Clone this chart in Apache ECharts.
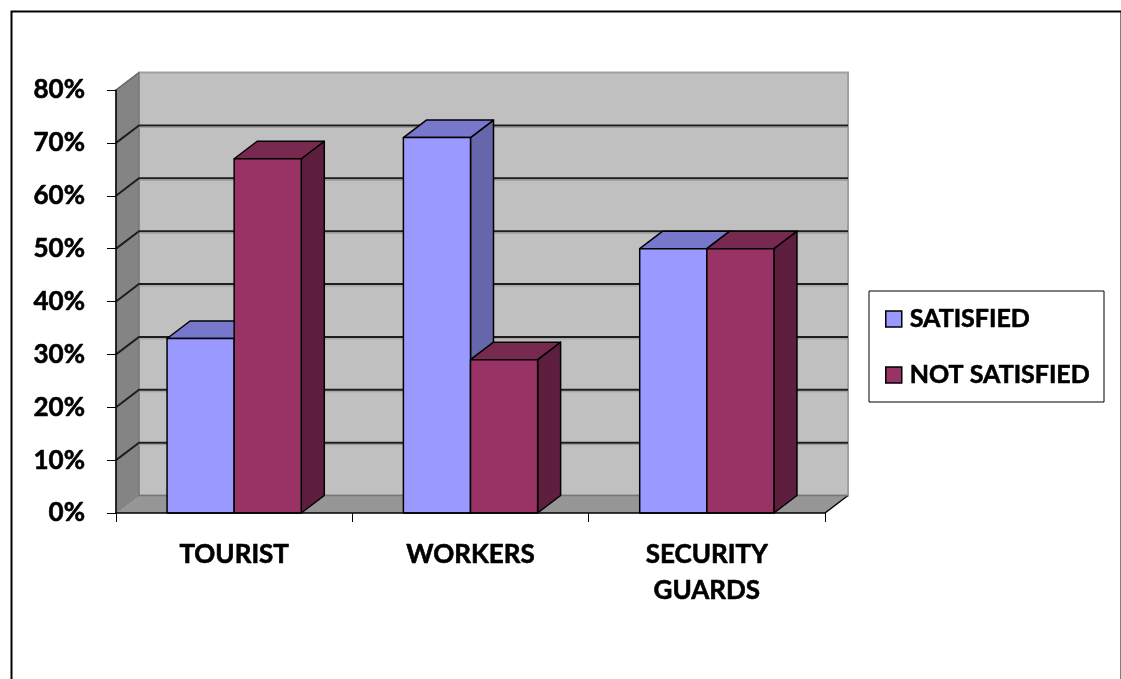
<!DOCTYPE html>
<html>
<head>
<meta charset="utf-8">
<script src="https://cdn.jsdelivr.net/npm/echarts@6/dist/echarts.min.js"></script>
<style>html,body{margin:0;padding:0;background:#fff;}#c{width:1121px;height:679px;}</style>
</head>
<body>
<div id="c"></div>
<script>
const categories = ['TOURIST', 'WORKERS', 'SECURITY\nGUARDS'];
const satisfied = [0.33, 0.71, 0.50];
const notSatisfied = [0.67, 0.29, 0.50];
const yTicks = [0, 0.1, 0.2, 0.3, 0.4, 0.5, 0.6, 0.7, 0.8];
const seriesNames = ['SATISFIED', 'NOT SATISFIED'];

const DX = 23, DY = -17.5;
const FONT = 'Lato';
const WEIGHT = 'bold';
const HEAVY = {textBorderColor: '#000', textBorderWidth: 0.6};
const colors = [
  {front: '#9999FF', top: '#7777CC', side: '#6666AA'},
  {front: '#993366', top: '#77294F', side: '#5E1F3E'}
];

function wallItem(params, api) {
  const band = api.size([1, 0])[0];
  const left = api.coord([0, 0])[0] - band / 2;
  const right = api.coord([categories.length - 1, 0])[0] + band / 2;
  const y0 = api.coord([0, yTicks[0]])[1];
  const yTop = api.coord([0, yTicks[yTicks.length - 1]])[1];
  const children = [];
  children.push({type: 'rect', shape: {x: left + DX, y: yTop + DY, width: right - left, height: y0 - yTop},
    style: {fill: '#C0C0C0', stroke: '#A0A0A0', lineWidth: 2}});
  children.push({type: 'polygon', shape: {points: [[left, y0], [left, yTop], [left + DX, yTop + DY], [left + DX, y0 + DY]]},
    style: {fill: '#848484', stroke: '#707070', lineWidth: 1}});
  children.push({type: 'polygon', shape: {points: [[left, y0], [right, y0], [right + DX, y0 + DY], [left + DX, y0 + DY]]},
    style: {fill: '#969696', stroke: null}});
  children.push({type: 'line', shape: {x1: right, y1: y0, x2: right + DX, y2: y0 + DY}, style: {stroke: '#000', lineWidth: 1.5}});
  children.push({type: 'line', shape: {x1: left + DX, y1: y0 + DY, x2: right + DX, y2: y0 + DY}, style: {stroke: '#777', lineWidth: 1.5}});
  for (let i = 1; i < yTicks.length - 1; i++) {
    const y = api.coord([0, yTicks[i]])[1];
    children.push({type: 'polyline', shape: {points: [[left, y], [left + DX, y + DY], [right + DX, y + DY]]},
      style: {stroke: '#1E1E1E', lineWidth: 2, fill: null}});
    children.push({type: 'line', shape: {x1: left + DX, y1: y + DY + 2, x2: right + DX, y2: y + DY + 2},
      style: {stroke: '#9A9A9A', lineWidth: 1}});
  }
  children.push({type: 'line', shape: {x1: left, y1: yTop, x2: left + DX, y2: yTop + DY}, style: {stroke: '#666', lineWidth: 1.5}});
  return {type: 'group', children};
}

function barItem(idx) {
  return function (params, api) {
    const cat = api.value(0), v = api.value(1);
    const base = api.coord([cat, 0]);
    const top = api.coord([cat, v]);
    const band = api.size([1, 0])[0];
    const bw = band * 0.284;
    const x0 = base[0] - bw + idx * bw, x1 = x0 + bw;
    const yb = base[1], yt = top[1];
    const c = colors[idx];
    const st = {stroke: '#000', lineWidth: 1.5, lineJoin: 'round'};
    return {type: 'group', children: [
      {type: 'polygon', shape: {points: [[x1, yt], [x1 + DX, yt + DY], [x1 + DX, yb + DY], [x1, yb]]}, style: Object.assign({fill: c.side}, st)},
      {type: 'polygon', shape: {points: [[x0, yt], [x0 + DX, yt + DY], [x1 + DX, yt + DY], [x1, yt]]}, style: Object.assign({fill: c.top}, st)},
      {type: 'rect', shape: {x: x0, y: yt, width: bw, height: yb - yt}, style: Object.assign({fill: c.front}, st)}
    ]};
  };
}

const chart = echarts.init(document.getElementById('c'), null, {renderer: 'canvas'});
chart.setOption({
  animation: false,
  backgroundColor: '#fff',
  graphic: [{type: 'rect', left: 9, top: 9, shape: {width: 1110, height: 700}, style: {fill: null, stroke: '#000', lineWidth: 2}, silent: true}],
  grid: {left: 116, right: 296, top: 90, bottom: 166},
  legend: {
    orient: 'vertical', left: 869, top: 291,
    padding: [14, 14, 13, 16], itemGap: 28,
    borderColor: '#000', borderWidth: 1,
    icon: 'rect', itemWidth: 16, itemHeight: 16,
    textStyle: Object.assign({fontFamily: FONT, fontWeight: WEIGHT, fontSize: 25, lineHeight: 28, color: '#000', padding: [0, 0, 0, 3]}, HEAVY),
    data: [
      {name: seriesNames[0], itemStyle: {color: colors[0].front, borderColor: '#000', borderWidth: 1.5}},
      {name: seriesNames[1], itemStyle: {color: colors[1].front, borderColor: '#000', borderWidth: 1.5}}
    ]
  },
  xAxis: {
    type: 'category', data: categories, z: 5,
    axisLine: {show: true, lineStyle: {color: '#000', width: 1.5}},
    axisTick: {show: true, length: 9, lineStyle: {color: '#000', width: 1}},
    axisLabel: Object.assign({fontFamily: FONT, fontWeight: WEIGHT, fontSize: 26, color: '#000', lineHeight: 36, margin: 24, interval: 0}, HEAVY),
    splitLine: {show: false}
  },
  yAxis: {
    type: 'value', min: 0, max: 0.8, interval: 0.1, z: 5,
    axisLine: {show: true, lineStyle: {color: '#000', width: 1.5}},
    axisTick: {show: true, length: 9, lineStyle: {color: '#000', width: 1}},
    axisLabel: Object.assign({fontFamily: FONT, fontWeight: WEIGHT, fontSize: 26, color: '#000', margin: 31,
      formatter: v => Math.round(v * 100) + '%'}, HEAVY),
    splitLine: {show: false}
  },
  series: [
    {type: 'custom', name: 'walls', renderItem: wallItem, data: [[0, 0]], silent: true, z: 1},
    {type: 'custom', name: seriesNames[0], renderItem: barItem(0), itemStyle: {color: colors[0].front},
      encode: {x: 0, y: 1}, data: satisfied.map((v, i) => [i, v]), z: 2},
    {type: 'custom', name: seriesNames[1], renderItem: barItem(1), itemStyle: {color: colors[1].front},
      encode: {x: 0, y: 1}, data: notSatisfied.map((v, i) => [i, v]), z: 2}
  ]
});
</script>
</body>
</html>
